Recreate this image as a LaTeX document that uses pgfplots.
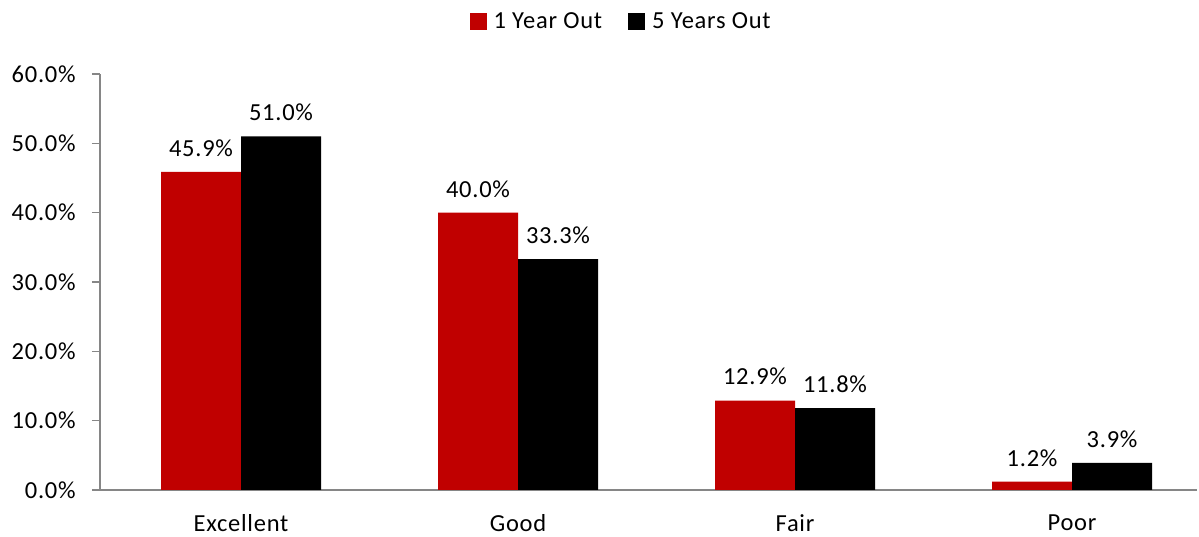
\documentclass[border=0pt]{standalone}
\usepackage{pgfplots}
\pgfplotsset{compat=1.18}
\usepackage{fontspec}
\setmainfont{Carlito}[LetterSpace=3]
\definecolor{barred}{HTML}{C00000}
\definecolor{axgray}{HTML}{868686}
\newcommand{\lbl}{\fontsize{24.5}{28}\selectfont}
\begin{document}
\lbl
\begin{tikzpicture}
\begin{axis}[
  scale only axis,
  width=1097pt, height=416pt,
  ymin=0, ymax=60,
  xmin=-0.509, xmax=3.451,
  ytick={0,10,20,30,40,50,60},
  yticklabel={\pgfmathprintnumber[fixed,fixed zerofill,precision=1]{\tick}\%},
  /pgf/number format/assume math mode=true,
  xtick={0,1,2,3},
  xticklabels={Excellent,Good,Fair,Poor},
  major x tick style={draw=none},
  y tick style={axgray, line width=1.2pt},
  tick align=outside,
  major tick length=8pt,
  axis x line*=bottom,
  axis y line*=left,
  axis line style={axgray, line width=1.2pt, -},
  ybar=0pt,
  bar width=80pt,
  tick label style={font=\lbl, text=black},
  yticklabel style={xshift=-8pt},
  xticklabel style={yshift=-8pt},
  nodes near coords={\pgfmathprintnumber[fixed,fixed zerofill,precision=1]{\pgfplotspointmeta}\%},
  nodes near coords style={font=\lbl, text=black, yshift=7pt},
  legend style={draw=none, at={(0.475,1.125)}, anchor=center, legend columns=2,
    font=\lbl, /tikz/every even column/.append style={column sep=24pt}},
  legend image code/.code={\fill[#1] (0pt,-8pt) rectangle (17pt,9pt); \path (22pt,0pt);},
  clip=false,
]
\addplot[fill=barred, draw=none] coordinates {(0,45.9) (1,40.0) (2,12.9) (3,1.2)};
\addplot[fill=black, draw=none] coordinates {(0,51.0) (1,33.3) (2,11.8) (3,3.9)};
\legend{1 Year Out, 5 Years Out}
\coordinate (O) at (rel axis cs:0,0);
\end{axis}
\pgfresetboundingbox
\path[use as bounding box] ([xshift=-100pt,yshift=-47pt]O) rectangle ([xshift=1099pt,yshift=490pt]O);
\end{tikzpicture}
\end{document}
